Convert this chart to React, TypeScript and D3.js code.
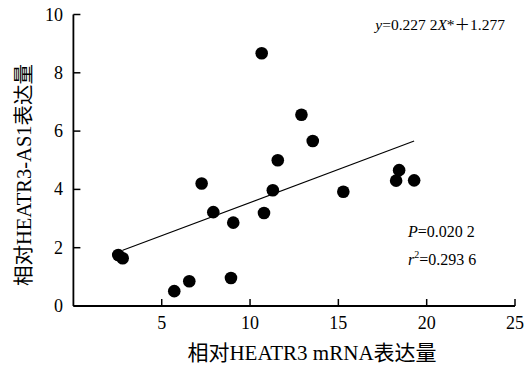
import React from 'react';
import * as d3 from 'd3';

// HEATR3 mRNA vs HEATR3-AS1 relative expression
const heatr3 = [2.54, 2.79, 5.71, 6.56, 8.92, 7.26, 7.92, 9.05, 10.66, 10.79, 11.29, 11.57, 12.91, 13.55, 15.28, 18.44, 18.27, 19.29];
const as1 = [1.75, 1.64, 0.51, 0.85, 0.96, 4.2, 3.22, 2.86, 8.67, 3.19, 3.97, 5.0, 6.56, 5.66, 3.92, 4.66, 4.3, 4.31];
const xTicks = [5, 10, 15, 20, 25];
const yTicks = [0, 2, 4, 6, 8, 10];
const slope = 0.2272;
const intercept = 1.277;
const fitRange = [2.79, 19.29];

const serif = '"Liberation Serif", "Times New Roman", "Noto Sans CJK SC", serif';

export default function App() {
  const width = 531;
  const height = 365;
  const x = d3.scaleLinear().domain([0, 25]).range([73.4, 515]);
  const y = d3.scaleLinear().domain([0, 10]).range([306, 14.5]);
  const fit = d3.line<number>()
    .x(d => x(d))
    .y(d => y(slope * d + intercept));

  return (
    <svg width={width} height={height} style={{ position: 'absolute', left: 0, top: 0, background: '#fff' }}>
      {/* axes */}
      <line x1={x(0)} y1={y(0)} x2={x(25)} y2={y(0)} stroke="#000" strokeWidth={1.8} />
      <line x1={x(0)} y1={y(0)} x2={x(0)} y2={y(10)} stroke="#000" strokeWidth={1.8} />
      {xTicks.map(t => (
        <g key={'x' + t}>
          <line x1={x(t)} x2={x(t)} y1={y(0)} y2={y(0) - 7} stroke="#000" strokeWidth={1.5} />
          <text x={x(t)} y={329} textAnchor="middle" fontFamily={serif} fontSize={18}>{t}</text>
        </g>
      ))}
      {yTicks.map(t => (
        <g key={'y' + t}>
          <line x1={x(0)} x2={x(0) + 7} y1={y(t)} y2={y(t)} stroke="#000" strokeWidth={1.5} />
          <text x={63} y={y(t) + 6} textAnchor="end" fontFamily={serif} fontSize={18}>{t}</text>
        </g>
      ))}

      <path d={fit(fitRange) || ''} fill="none" stroke="#000" strokeWidth={1.1} />

      {heatr3.map((v, i) => (
        <circle key={i} cx={x(v)} cy={y(as1[i])} r={6.3} fill="#000" />
      ))}

      <text x={505} y={30} textAnchor="end" fontFamily={serif} fontSize={15.5}>
        <tspan fontStyle="italic">y</tspan>=0.227 2<tspan fontStyle="italic">X</tspan>*＋1.277
      </text>
      <text x={408} y={237} fontFamily={serif} fontSize={16}>
        <tspan fontStyle="italic">P</tspan>=0.020 2
      </text>
      <text x={408} y={265} fontFamily={serif} fontSize={16}>
        <tspan fontStyle="italic">r</tspan><tspan fontSize={10} dy={-7}>2</tspan><tspan dy={7}>=0.293 6</tspan>
      </text>

      <text x={312} y={360} textAnchor="middle" fontFamily={serif} fontSize={21}>相对HEATR3 mRNA表达量</text>
      <text transform="translate(31,175) rotate(-90)" textAnchor="middle" fontFamily={serif} fontSize={20.5}>相对HEATR3-AS1表达量</text>
    </svg>
  );
}
